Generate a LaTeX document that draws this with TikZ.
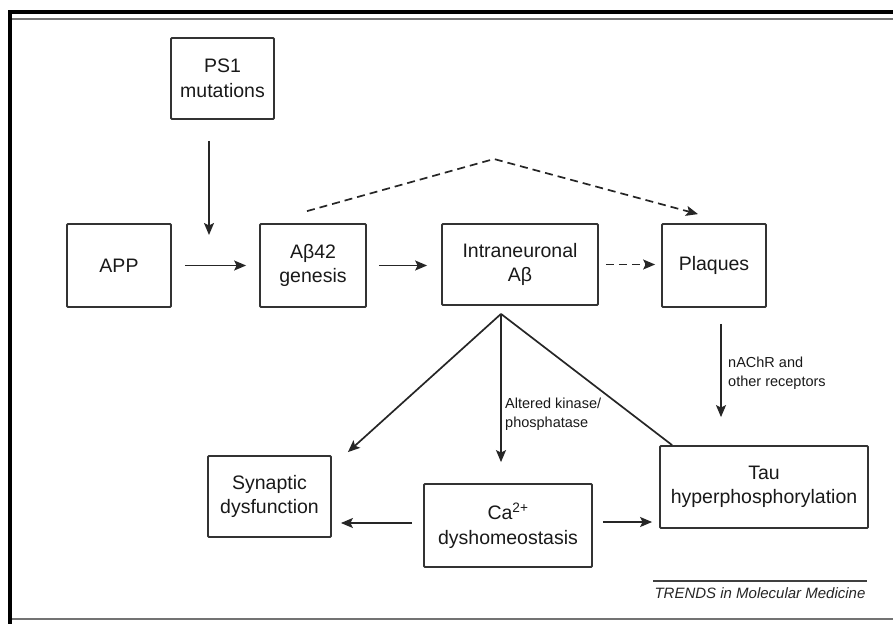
\documentclass[tikz,border=0pt]{standalone}
\usepackage{fontspec}
\setmainfont{Liberation Sans}
\usetikzlibrary{arrows.meta}

\begin{document}
\begin{tikzpicture}[x=1pt,y=-1pt,
  box/.style={draw=black!80, line width=1.8pt, rounded corners=1pt, inner sep=0pt, align=center,
    font=\fontsize{19.5}{24.5}\selectfont, text=black!90},
  conn/.style={draw=black!85, line width=1.7pt},
  arr/.style={conn, -{Stealth[length=12pt,width=10pt,inset=2.5pt]}},
  dsh/.style={arr, dash pattern=on 8pt off 5pt},
  lbl/.style={font=\fontsize{14.5}{19}\selectfont, align=left, anchor=west, inner sep=0pt, text=black!90}]
\useasboundingbox (0,0) rectangle (893,624);
% frame
\fill[black] (8,10) rectangle (893,14);
\fill[black] (8,10) rectangle (12,624);
\draw[black!55, line width=2.5pt] (12,19) -- (893,19);
\draw[black!55, line width=2.5pt] (12,619) -- (893,619);

% boxes
\node[box, minimum width=103pt, minimum height=81pt] (ps1) at (222.5,78.5) {PS1\\mutations};
\node[box, minimum width=104pt, minimum height=83pt] (app) at (119,265.5) {APP};
\node[box, minimum width=106pt, minimum height=83pt] (abg) at (313,265.5) {Aβ42\\genesis};
\node[box, minimum width=156pt, minimum height=81pt] (intra) at (520,264.5) {Intraneuronal\\Aβ};
\node[box, minimum width=104pt, minimum height=83pt] (plaq) at (714,265.5) {Plaques};
\node[box, minimum width=123pt, minimum height=81pt] (syn) at (269.5,496.5) {Synaptic\\dysfunction};
\node[box, minimum width=168pt, minimum height=83pt] (ca) at (508,525.5) {Ca\textsuperscript{2+}\\dyshomeostasis};
\node[box, minimum width=208pt, minimum height=82pt] (tau) at (764,487) {Tau\\hyperphosphorylation};

% connectors
\coordinate (ps1end) at (209,235);
\draw[arr] ([xshift=-13.5pt,yshift=-21pt]ps1.south) -- (ps1end);
\draw[arr, shorten <=13pt, shorten >=13pt] (app.east) -- (abg.west);
\draw[arr, shorten <=12pt, shorten >=14pt] (abg.east) -- (abg.east -| intra.west);
\draw[dsh, shorten <=7pt, shorten >=6pt] (intra.east) -- (intra.east -| plaq.west);

\coordinate (peak) at (494,159);
\draw[dsh] ([xshift=-6pt,yshift=12pt]abg.north) -- (peak) -- ([xshift=-16pt,yshift=9pt]plaq.north);

\coordinate (apex) at ([xshift=-19pt,yshift=-8pt]intra.south);
\draw[arr] (apex) -- ([xshift=16pt,yshift=3pt]syn.north east);
\draw[arr] (apex) -- ([xshift=-7pt,yshift=21pt]ca.north);
\draw[conn] (apex) -- ([xshift=13pt]tau.north west);
\draw[arr] ([xshift=7pt,yshift=-16pt]plaq.south) -- ([xshift=-43pt,yshift=28pt]tau.north);
\draw[arr] ([xshift=-11pt,yshift=2.5pt]ca.west) -- ([xshift=9pt,yshift=-26.5pt]syn.east);
\draw[arr] ([xshift=10pt,yshift=3.5pt]ca.east) -- ([xshift=-7pt,yshift=-35pt]tau.west);

% labels
\node[lbl] (lk) at (505,414) {Altered kinase/\\phosphatase};
\node[lbl] (ln) at (728,373) {nAChR and\\other receptors};

% source line
\node[font=\fontsize{15}{17}\selectfont\itshape, inner sep=0pt, text=black!85] (tr) at (760,593) {TRENDS in Molecular Medicine};
\draw[black!75, line width=1.2pt] (653,581) -- (867,581);
\end{tikzpicture}
\end{document}
